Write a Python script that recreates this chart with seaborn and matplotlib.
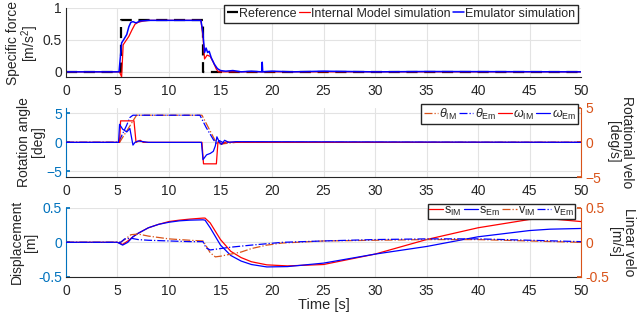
import numpy as np
import pandas as pd
import matplotlib
matplotlib.use("Agg")
import matplotlib.pyplot as plt
import seaborn as sns

# values

# panel 1: specific force [m/s^2]
t_ref = [0, 5.3, 5.3, 13.3, 13.3, 50]
f_ref = [0, 0, 0.8, 0.8, 0, 0]

t_fim = [0, 5.2, 5.4, 5.55, 5.8, 6.1, 6.4, 6.7, 7.0, 7.5, 8.0, 13.1, 13.3, 13.45, 13.7, 14.0, 14.3, 14.6, 14.8, 50]
f_im = [0, 0, -0.08, 0.42, 0.48, 0.55, 0.65, 0.74, 0.77, 0.79, 0.8, 0.8, 0.55, 0.2, 0.26, 0.24, 0.15, 0.04, 0.0, 0]

t_fem = [0, 5.15, 5.4, 5.6, 5.9, 6.1, 6.3, 6.5, 6.8, 7.2, 8, 13.1, 13.3, 13.45, 13.6, 13.75, 13.9, 14.1, 14.4,
         14.7, 15.0, 15.5, 16.2, 17.0, 18.0, 19.0, 19.05, 19.1, 20, 22, 25, 30, 35, 50]
f_em = [0, 0, 0.45, 0.5, 0.58, 0.7, 0.77, 0.78, 0.76, 0.79, 0.8, 0.8, 0.6, 0.3, 0.37, 0.3, 0.32, 0.22, 0.12,
        0.05, 0.02, 0.01, 0.02, 0.0, 0.01, 0.0, 0.15, 0.0, 0.01, 0.0, 0.01, 0.0, 0.005, 0]

# panel 2: rotation angle [deg] (left), rotational velocity [deg/s] (right)
t_thim = [0, 5.2, 6.85, 13.2, 14.6, 15.0, 15.5, 16.5, 50]
th_im = [0, 0, 4.7, 4.7, -0.1, -0.3, -0.2, 0, 0]

t_them = [0, 5.1, 5.5, 5.9, 6.2, 6.5, 13.0, 13.6, 14.3, 14.6, 14.9, 15.3, 16.0, 50]
th_em = [0, 0, 1.5, 3.0, 4.3, 4.7, 4.7, 2.6, 0.5, -0.2, 0.3, -0.1, 0, 0]

t_wim = [0, 5.2, 5.3, 6.6, 6.8, 7.2, 7.5, 8.0, 13.2, 13.35, 14.6, 14.75, 15.2, 15.6, 16.0, 50]
w_im = [0, 0, 3.1, 3.1, 0, 0.3, 0, 0, 0, -3.1, -3.1, 0, -0.2, 0.1, 0, 0]

t_wem = [0, 5.1, 5.2, 5.5, 5.9, 6.2, 6.5, 6.7, 7.0, 7.5, 8, 13.15, 13.3, 13.65, 14.0, 14.3, 14.5, 14.65,
         14.9, 15.1, 15.4, 15.8, 16.5, 50]
w_em = [0, 0, 2.6, 1.9, 1.5, 2.0, -0.4, 0, 0.2, 0.1, 0, 0, -2.5, -1.8, -1.6, -1.3, -0.5, 0.8,
        0, -0.3, 0.3, 0, 0.1, 0]

# panel 3: displacement [m] (left), linear velocity [m/s] (right)
t_s = [0, 5.0, 5.5, 6.0, 6.5, 7.0, 8.0, 9.0, 10, 11, 12, 13.3, 13.5, 14, 15, 16, 17, 18, 19.5, 21.5,
       25, 30, 35, 40, 45, 47, 50]
s_im = [0, 0, -0.03, 0.02, 0.08, 0.13, 0.21, 0.26, 0.30, 0.32, 0.335, 0.35, 0.35, 0.28, 0.04, -0.13,
        -0.22, -0.28, -0.325, -0.34, -0.32, -0.17, 0.04, 0.21, 0.33, 0.34, 0.30]
s_em = [0, 0, -0.04, 0.0, 0.08, 0.13, 0.21, 0.26, 0.29, 0.31, 0.32, 0.325, 0.32, 0.21, -0.04, -0.19,
        -0.27, -0.32, -0.355, -0.35, -0.30, -0.17, -0.06, 0.08, 0.17, 0.19, 0.2]

t_v = [0, 5.3, 5.7, 6.3, 7.0, 8.0, 10, 12, 13.3, 13.6, 14.0, 14.5, 15, 16, 17, 18, 19.5, 21, 25, 30, 35,
       40, 45, 50]
v_im = [0, 0, 0.04, 0.11, 0.12, 0.09, 0.05, 0.03, 0.02, -0.05, -0.15, -0.21, -0.2, -0.17, -0.14, -0.09,
        -0.04, -0.01, 0.02, 0.03, 0.04, 0.04, 0.02, 0.0]
v_em = [0, 0, 0.05, 0.06, 0.04, 0.03, 0.02, 0.01, 0.01, -0.08, -0.11, -0.1, -0.09, -0.07, -0.055, -0.04,
        -0.02, 0.0, 0.02, 0.04, 0.05, 0.05, 0.03, 0.01]

x_ticks = [0, 5, 10, 15, 20, 25, 30, 35, 40, 45, 50]

sns.set_theme(style="whitegrid")
plt.rcParams["font.family"] = ["Liberation Sans", "DejaVu Sans"]
plt.rcParams["mathtext.fontset"] = "custom"
plt.rcParams["mathtext.rm"] = "Liberation Sans"
plt.rcParams["mathtext.it"] = "Liberation Sans:italic"

LBLUE = "#0072BD"
ORNG = "#D95319"
DARK = "#262626"

fig = plt.figure(figsize=(6.37, 3.22), dpi=100)
ax1 = fig.add_axes([0.1036, 0.7609, 0.8085, 0.2158])
ax2 = fig.add_axes([0.1036, 0.4503, 0.8085, 0.2152])
ax3 = fig.add_axes([0.1036, 0.1398, 0.8085, 0.2152])
ax2r = ax2.twinx()
ax3r = ax3.twinx()


def line(ax, t, y, color, ls="-", lw=0.9, label=None):
    sns.lineplot(x=t, y=y, ax=ax, color=color, linestyle=ls, linewidth=lw, label=label,
                 estimator=None, sort=False, legend=False)


def style(ax, left_color=DARK):
    ax.set_facecolor("none")
    ax.grid(True, color="#E3E3E3", linewidth=0.8)
    ax.set_xlim(0, 50)
    ax.set_xticks(x_ticks)
    ax.tick_params(axis="both", direction="in", length=3, labelsize=10, pad=3, colors=DARK)
    ax.tick_params(axis="x", pad=5)
    ax.tick_params(axis="y", colors=left_color)
    for s in ["top", "right"]:
        ax.spines[s].set_visible(False)
    ax.spines["left"].set_color(left_color)
    ax.spines["bottom"].set_color(DARK)
    for s in ["left", "bottom"]:
        ax.spines[s].set_linewidth(0.8)
    ax.set_xlabel("")
    ax.set_ylabel("")


def style_right(ax):
    ax.grid(False)
    ax.tick_params(axis="y", direction="in", length=3, labelsize=10, colors=ORNG, pad=3)
    for s in ["top", "left", "bottom"]:
        ax.spines[s].set_visible(False)
    ax.spines["right"].set_color(ORNG)
    ax.spines["right"].set_linewidth(0.8)
    ax.set_ylabel("")


leg_kw = dict(loc="upper right", fontsize=9, frameon=True, fancybox=False, edgecolor=DARK,
              framealpha=1, handletextpad=0.1, columnspacing=0.15, borderaxespad=0)

# panel 1
line(ax1, t_ref, f_ref, "black", ls=(0, (5, 3)), lw=1.6, label="Reference")
line(ax1, t_fim, f_im, "red", label="Internal Model simulation")
line(ax1, t_fem, f_em, "blue", lw=1.1, label="Emulator simulation")
style(ax1)
ax1.set_ylim(-0.08, 1.0)
ax1.set_yticks([0, 0.5, 1])
ax1.set_yticklabels(["0", "0.5", "1"])
h, l = ax1.get_legend_handles_labels()
ax1.legend(h, l, bbox_to_anchor=(0.995, 1.04), ncol=3, handlelength=0.9, borderpad=0.25, **leg_kw)

# panel 2
line(ax2, t_thim, th_im, ORNG, ls="-.", label=r"$\theta_{\rm IM}$")
line(ax2, t_them, th_em, "blue", ls="-.", label=r"$\theta_{\rm Em}$")
line(ax2r, t_wim, w_im, "red", label=r"$\omega_{\rm IM}$")
line(ax2r, t_wem, w_em, "blue", label=r"$\omega_{\rm Em}$")
style(ax2, LBLUE)
ax2.set_ylim(-6, 6)
ax2.set_yticks([-5, 0, 5])
style_right(ax2r)
ax2r.set_ylim(-5, 5)
ax2r.set_yticks([-5, 0, 5])
h1, l1 = ax2.get_legend_handles_labels()
h2, l2 = ax2r.get_legend_handles_labels()
ax2r.legend(h1 + h2, l1 + l2, bbox_to_anchor=(0.995, 1.05), ncol=4, handlelength=1.15, borderpad=0.2,
            **leg_kw)

# panel 3
line(ax3, t_s, s_im, "red", label=r"s$_{\rm IM}$")
line(ax3, t_s, s_em, "blue", label=r"s$_{\rm Em}$")
line(ax3r, t_v, v_im, ORNG, ls="-.", label=r"v$_{\rm IM}$")
line(ax3r, t_v, v_em, "blue", ls="-.", label=r"v$_{\rm Em}$")
style(ax3, LBLUE)
ax3.set_ylim(-0.5, 0.5)
ax3.set_yticks([-0.5, 0, 0.5])
ax3.set_yticklabels(["-0.5", "0", "0.5"])
style_right(ax3r)
ax3r.set_ylim(-0.5, 0.5)
ax3r.set_yticks([-0.5, 0, 0.5])
ax3r.set_yticklabels(["-0.5", "0", "0.5"])
h1, l1 = ax3.get_legend_handles_labels()
h2, l2 = ax3r.get_legend_handles_labels()
ax3r.legend(h1 + h2, l1 + l2, bbox_to_anchor=(0.988, 1.06), ncol=4, handlelength=1.15, borderpad=0.1,
            **leg_kw)
ax3.set_xlabel("Time [s]", fontsize=10.5, color=DARK, labelpad=0)

# axis labels
fig.text(0.037, 0.865, "Specific force\n[m/s$^2$]", rotation=90, ha="center", va="center",
         fontsize=10, color=DARK, linespacing=1.0)
fig.text(0.049, 0.559, "Rotation angle\n[deg]", rotation=90, ha="center", va="center",
         fontsize=10, color=DARK, linespacing=1.0)
fig.text(0.037, 0.248, "Displacement\n[m]", rotation=90, ha="center", va="center",
         fontsize=10, color=DARK, linespacing=1.0)
fig.text(0.974, 0.559, "Rotational velo\n[deg/s]", rotation=-90, ha="center", va="center",
         fontsize=10, color=DARK, linespacing=1.0)
fig.text(0.977, 0.248, "Linear velo\n[m/s]", rotation=-90, ha="center", va="center",
         fontsize=10, color=DARK, linespacing=1.0)

fig.savefig("out.png", dpi=100, facecolor="white")
